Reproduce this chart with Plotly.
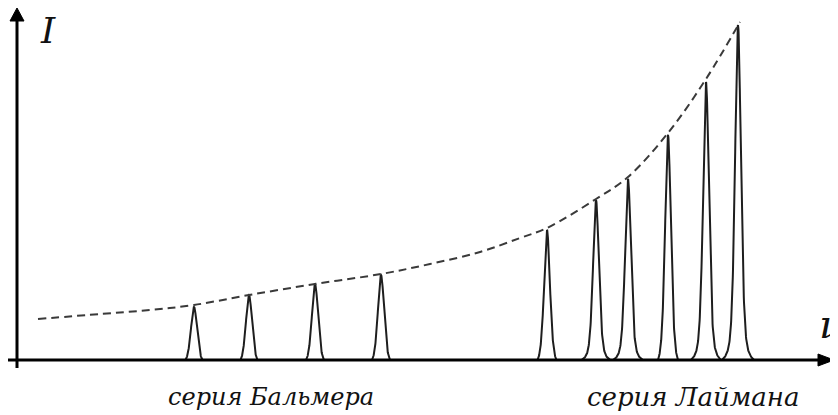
import numpy as np
import plotly.graph_objects as go

# ---- data (frequency in arbitrary units, intensity in arbitrary units) ----
balmer_nu = [194, 249, 315, 381]
balmer_I = [53, 65, 76, 85]
balmer_halfbase = [8.5, 8.5, 9, 9]

lyman_nu = [547, 596, 628, 668, 706, 738]
lyman_I = [130, 160, 181, 225, 278, 335]
lyman_halfbase = [9.5, 14.5, 15, 10, 15, 16]

envelope_nu = [38, 100, 150, 194, 249, 315, 381, 430, 480, 520, 547, 596, 628, 668, 706, 740]
envelope_I = [41, 46, 50, 55, 65, 76, 86, 96, 108, 122, 132, 161, 183, 227, 281, 338]

series_labels = ["серия Бальмера", "серия Лаймана"]
axis_labels = ["I", "ν"]


def profile(centers, heights, halfbases, sigma, gamma, mix):
    xs, ys = [], []
    for c, h, w in zip(centers, heights, halfbases):
        x = np.linspace(c - w, c + w, 161)

        def f(d):
            g = np.exp(-d**2 / (2 * sigma**2))
            l = gamma**2 / (d**2 + gamma**2)
            return (1 - mix) * g + mix * l

        fw = f(w)
        y = h * (f(x - c) - fw) / (1 - fw)
        xs += list(x) + [None]
        ys += list(y) + [None]
    return xs, ys


fig = go.Figure()

bx, by = profile(balmer_nu, balmer_I, balmer_halfbase, 3.2, 3.5, 0.3)
lx, ly = profile(lyman_nu, lyman_I, lyman_halfbase, 3.0, 3.5, 0.45)

line_style = dict(color="#1e1e1e", width=2)
fig.add_trace(go.Scatter(x=bx, y=by, mode="lines", line=line_style, hoverinfo="skip"))
fig.add_trace(go.Scatter(x=lx, y=ly, mode="lines", line=line_style, hoverinfo="skip"))

fig.add_trace(go.Scatter(
    x=envelope_nu, y=envelope_I, mode="lines",
    line=dict(color="#3a3a3a", width=2, dash="8px,5px", shape="spline", smoothing=1.0),
    hoverinfo="skip",
))

# axes drawn as arrows
fig.add_shape(type="line", x0=6, y0=0, x1=822, y1=0, line=dict(color="black", width=3))
fig.add_shape(type="path", path="M 818 -6 L 834 0 L 818 6 Z", fillcolor="black", line=dict(color="black", width=1))
fig.add_shape(type="line", x0=17, y0=-8, x1=17, y1=340, line=dict(color="black", width=3))
fig.add_shape(type="path", path="M 10 339 L 17 352 L 24 339 Z", fillcolor="black", line=dict(color="black", width=1))

font_family = "DejaVu Serif"
fig.add_annotation(x=48, y=330, text="<i>" + axis_labels[0] + "</i>", showarrow=False,
                   font=dict(family=font_family, size=36, color="#111"), xanchor="center", yanchor="middle")
fig.add_annotation(x=817, y=36, text="<i>" + axis_labels[1] + "</i>", showarrow=False,
                   font=dict(family=font_family, size=40, color="#111"), xanchor="left", yanchor="middle")
fig.add_annotation(x=271, y=-37, text="<i>" + series_labels[0] + "</i>", showarrow=False,
                   font=dict(family=font_family, size=24, color="#111"), xanchor="center", yanchor="middle")
fig.add_annotation(x=693, y=-37, text="<i>" + series_labels[1] + "</i>", showarrow=False,
                   font=dict(family=font_family, size=26, color="#111"), xanchor="center", yanchor="middle")

# page body has an 8px margin: figure covers page pixels 8..838 x 8..415
fig.update_layout(
    width=830, height=407,
    margin=dict(l=0, r=0, t=0, b=0),
    paper_bgcolor="white", plot_bgcolor="white",
    showlegend=False,
    xaxis=dict(range=[8, 838], visible=False, fixedrange=True),
    yaxis=dict(range=[-55, 352], visible=False, fixedrange=True),
)

fig.write_html("out.html")
